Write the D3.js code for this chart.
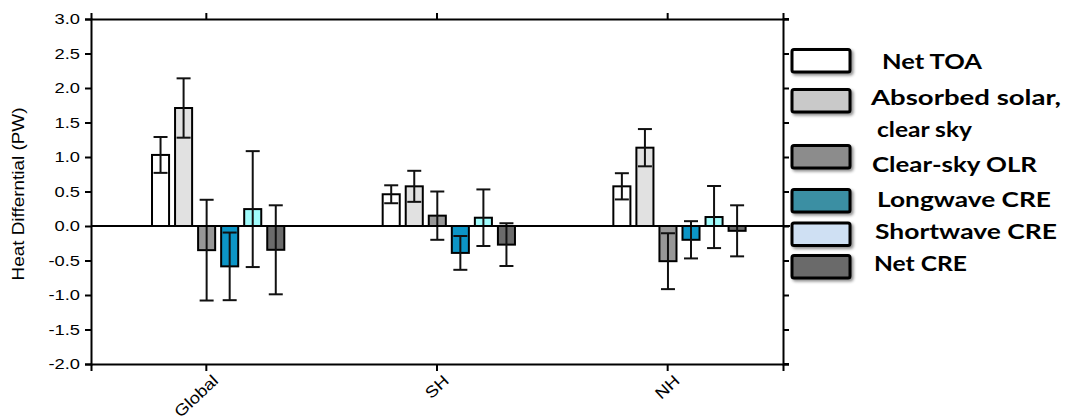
<!DOCTYPE html>
<html>
<head>
<meta charset="utf-8">
<script src="https://cdn.jsdelivr.net/npm/d3@7"></script>
<style>
  html, body { margin: 0; padding: 0; background: #fff; }
  svg { display: block; }
</style>
</head>
<body>
<svg id="chart" width="1066" height="419"></svg>
<script>
// ---------------- DATA ----------------
const categories = ["Global", "SH", "NH"];
const seriesNames = ["Net TOA", "Absorbed solar, clear sky", "Clear-sky OLR", "Longwave CRE", "Shortwave CRE", "Net CRE"];
const netTOA        = [1.03, 0.46, 0.575];
const netTOAErr     = [0.26, 0.13, 0.19];
const absorbedSolar = [1.71, 0.575, 1.135];
const absorbedSolarErr = [0.43, 0.225, 0.27];
const clearSkyOLR   = [-0.35, 0.15, -0.51];
const clearSkyOLRErr = [0.73, 0.35, 0.405];
const longwaveCRE   = [-0.585, -0.39, -0.20];
const longwaveCREErr = [0.49, 0.245, 0.27];
const shortwaveCRE  = [0.245, 0.12, 0.13];
const shortwaveCREErr = [0.84, 0.41, 0.45];
const netCRE        = [-0.345, -0.27, -0.07];
const netCREErr     = [0.645, 0.31, 0.37];
const yTicks = [-2.0, -1.5, -1.0, -0.5, 0.0, 0.5, 1.0, 1.5, 2.0, 2.5, 3.0];
const yTickLabels = ["-2.0", "-1.5", "-1.0", "-0.5", "0.0", "0.5", "1.0", "1.5", "2.0", "2.5", "3.0"];
const yLabel = "Heat Differntial (PW)";
const legendLines = [["Net TOA"], ["Absorbed solar,", "clear sky"], ["Clear-sky OLR"], ["Longwave CRE"], ["Shortwave CRE"], ["Net CRE"]];

// ---------------- STYLE ----------------
const barColors = ["#ffffff", "#e1e1e1", "#979797", "#0c95c6", "#a0fcfc", "#6b6b6b"];
const legendColors = ["#ffffff", "#c9c9c9", "#8c8c8c", "#3a8fa3", "#cfe0f3", "#6b6b6b"];

const values = [netTOA, absorbedSolar, clearSkyOLR, longwaveCRE, shortwaveCRE, netCRE];
const errors = [netTOAErr, absorbedSolarErr, clearSkyOLRErr, longwaveCREErr, shortwaveCREErr, netCREErr];

const svg = d3.select("#chart");
const plotL = 91, plotR = 783, plotT = 19, plotB = 364;

const x = d3.scaleBand().domain(categories).range([plotL, plotR]).padding(0);
const bw = x.bandwidth();
const xInner = d3.scaleBand().domain(seriesNames)
  .range([bw * 0.2645, bw * 0.838]).paddingInner(0.26).paddingOuter(0);
const y = d3.scaleLinear().domain([-2, 3]).range([plotB, plotT]);

const rows = [];
seriesNames.forEach((s, si) => categories.forEach((c, ci) => {
  rows.push({ s, si, c, v: values[si][ci], e: errors[si][ci] });
}));

// bars
const g = svg.append("g");
g.selectAll("rect.bar").data(rows).join("rect")
  .attr("class", "bar")
  .attr("x", d => x(d.c) + xInner(d.s))
  .attr("width", xInner.bandwidth())
  .attr("y", d => y(Math.max(0, d.v)))
  .attr("height", d => Math.abs(y(d.v) - y(0)))
  .attr("fill", d => barColors[d.si])
  .attr("stroke", "#000").attr("stroke-width", 2);

// error bars
const cap = 7;
const cx = d => x(d.c) + xInner(d.s) + xInner.bandwidth() / 2;
const eg = g.selectAll("g.err").data(rows).join("g").attr("class", "err")
  .attr("stroke", "#111").attr("stroke-width", 2);
eg.append("line")
  .attr("x1", cx).attr("x2", cx)
  .attr("y1", d => y(d.v + d.e)).attr("y2", d => y(d.v - d.e));
eg.append("line")
  .attr("x1", d => cx(d) - cap).attr("x2", d => cx(d) + cap)
  .attr("y1", d => y(d.v + d.e)).attr("y2", d => y(d.v + d.e));
eg.append("line")
  .attr("x1", d => cx(d) - cap).attr("x2", d => cx(d) + cap)
  .attr("y1", d => y(d.v - d.e)).attr("y2", d => y(d.v - d.e));

// zero line
svg.append("line").attr("x1", plotL).attr("x2", plotR + 7)
  .attr("y1", y(0)).attr("y2", y(0)).attr("stroke", "#000").attr("stroke-width", 2);

// axes
const font = "'Liberation Sans', Arial, sans-serif";
const yAxis = d3.axisLeft(y).tickValues(yTicks).tickFormat((d, i) => yTickLabels[i]).tickSize(6).tickPadding(5);
const yg = svg.append("g").attr("transform", `translate(${plotL},0)`).call(yAxis);
yg.selectAll("text").attr("font-family", font).attr("font-size", 15).attr("fill", "#000")
  .each(function() { const L = this.getComputedTextLength(); d3.select(this).attr("textLength", L * 1.22).attr("lengthAdjust", "spacingAndGlyphs"); });

const yAxisR = d3.axisRight(y).tickValues(yTicks).tickFormat("").tickSize(6);
svg.append("g").attr("transform", `translate(${plotR},0)`).call(yAxisR);

const xAxisB = d3.axisBottom(x).tickSize(7).tickFormat("");
svg.append("g").attr("transform", `translate(0,${plotB})`).call(xAxisB);
const xAxisT = d3.axisTop(x).tickSize(6).tickFormat("");
svg.append("g").attr("transform", `translate(0,${plotT})`).call(xAxisT);

svg.selectAll(".domain").attr("stroke", "#000").attr("stroke-width", 2);
svg.selectAll(".tick line").attr("stroke", "#000").attr("stroke-width", 2);
svg.append("line").attr("x1", plotR).attr("x2", plotR + 6).attr("y1", plotT).attr("y2", plotT).attr("stroke", "#000").attr("stroke-width", 2);
svg.append("line").attr("x1", plotR).attr("x2", plotR + 6).attr("y1", plotB).attr("y2", plotB).attr("stroke", "#000").attr("stroke-width", 2);

// x category labels
svg.append("g").selectAll("text").data(categories).join("text")
  .attr("transform", d => `translate(${x(d) + bw / 2 + 13},${plotB + 18}) rotate(-43)`)
  .attr("text-anchor", "end")
  .attr("font-family", font).attr("font-size", 16).attr("fill", "#000")
  .text(d => d)
  .each(function() { const L = this.getComputedTextLength(); d3.select(this).attr("textLength", L * 1.15).attr("lengthAdjust", "spacingAndGlyphs"); });

// y label
svg.append("text")
  .attr("transform", `translate(24,${(107 + 281) / 2}) rotate(-90)`)
  .attr("text-anchor", "middle")
  .attr("font-family", font).attr("font-size", 17).attr("fill", "#000")
  .attr("textLength", 173).attr("lengthAdjust", "spacingAndGlyphs")
  .text(yLabel);

// legend
const defs = svg.append("defs");
const f = defs.append("filter").attr("id", "shadow").attr("x", "-20%").attr("y", "-20%").attr("width", "150%").attr("height", "180%");
f.append("feDropShadow").attr("dx", 2).attr("dy", 2).attr("stdDeviation", 1.5).attr("flood-color", "#000").attr("flood-opacity", 0.45);

const legendBoxTop = [49.5, 89.5, 145.5, 189.5, 223, 255.5];
const legendTextX = [[882], [871, 877], [872], [877], [875], [874]];
const legendBaseY = [[68.5], [105, 136.5], [171.5], [206.5], [238.5], [270.5]];
const legendTextW = [[100], [190, 95], [165], [174], [182], [93]];
const lg = svg.append("g");
legendLines.forEach((lines, i) => {
  lg.append("rect").attr("x", 792).attr("y", legendBoxTop[i]).attr("width", 58).attr("height", 22.5)
    .attr("rx", 2).attr("fill", legendColors[i]).attr("stroke", "#000").attr("stroke-width", 3)
    .attr("filter", "url(#shadow)");
  lines.forEach((t, j) => {
    lg.append("text").attr("x", legendTextX[i][j]).attr("y", legendBaseY[i][j])
      .attr("font-family", "Lato, 'Open Sans', sans-serif").attr("font-weight", "bold").attr("font-size", 21)
      .attr("fill", "#000")
      .attr("textLength", legendTextW[i][j]).attr("lengthAdjust", "spacingAndGlyphs")
      .text(t);
  });
});
</script>
</body>
</html>
